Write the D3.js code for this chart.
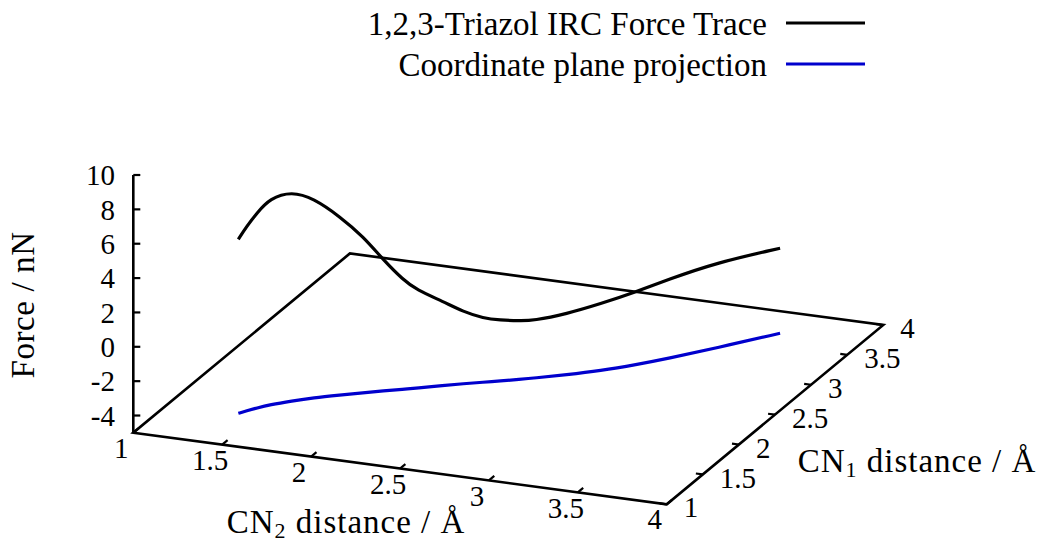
<!DOCTYPE html>
<html>
<head>
<meta charset="utf-8">
<script src="https://cdn.jsdelivr.net/npm/d3@7"></script>
<style>
html,body{margin:0;padding:0;background:#fff;}
svg text{font-family:'Liberation Serif','DejaVu Serif',serif;fill:#000;}
</style>
</head>
<body>
<svg id="chart" width="1039" height="542" font-family="'Liberation Serif','DejaVu Serif',serif"></svg>
<script>
// ---- data ----
const cn2 = [1.395,1.421,1.453,1.498,1.581,1.667,1.780,1.879,1.966,2.052,2.110,2.224,2.311,2.399,2.472,2.559,2.617,2.758,2.896,3.038,3.149,3.327,3.549];
const cn1 = [1.482,1.533,1.594,1.667,1.763,1.852,1.942,2.020,2.085,2.148,2.191,2.279,2.343,2.404,2.453,2.516,2.558,2.673,2.795,2.955,3.096,3.350,3.681];
const force = [5.13,5.73,6.34,7.02,7.19,6.61,5.38,4.09,2.62,1.36,0.71,-0.12,-0.81,-1.28,-1.45,-1.60,-1.65,-1.46,-1.12,-0.76,-0.42,-0.04,-0.05];
const cn2Ticks = [1,1.5,2,2.5,3,3.5,4];
const cn1Ticks = [1,1.5,2,2.5,3,3.5,4];
const forceTicks = [-4,-2,0,2,4,6,8,10];
const seriesNames = ["1,2,3-Triazol IRC Force Trace","Coordinate plane projection"];
const seriesColors = ["#000000","#0000cd"];

// ---- projection via scales ----
const origin = [133.3, 432.7];
const xPx = d3.scaleLinear().domain([1,4]).range([0, 533.4]);
const xPy = d3.scaleLinear().domain([1,4]).range([0, 71.6]);
const yPx = d3.scaleLinear().domain([1,4]).range([0, 216.6]);
const yPy = d3.scaleLinear().domain([1,4]).range([0, -179.3]);
const zPy = d3.scaleLinear().domain([-5,10]).range([0, -257.7]);
const zFloor = -5;
function proj(x,y,z){ return [origin[0]+xPx(x)+yPx(y), origin[1]+xPy(x)+yPy(y)+zPy(z)]; }

const svg = d3.select("#chart");
const g = svg.append("g");
const line = d3.line().curve(d3.curveBasis);

// floor
const corners = [proj(1,1,zFloor), proj(4,1,zFloor), proj(4,4,zFloor), proj(1,4,zFloor)];
g.append("path").attr("d", d3.line()(corners)+"Z")
  .attr("fill","none").attr("stroke","#000").attr("stroke-width",2.6).attr("stroke-linejoin","miter");
// z axis
g.append("line").attr("x1",proj(1,1,zFloor)[0]).attr("y1",proj(1,1,zFloor)[1])
  .attr("x2",proj(1,1,10)[0]).attr("y2",proj(1,1,10)[1])
  .attr("stroke","#000").attr("stroke-width",2.6);

const tickLen = 7;
const fs = 29;
// z ticks
forceTicks.forEach(t=>{
  const p = proj(1,1,t);
  g.append("line").attr("x1",p[0]).attr("y1",p[1]).attr("x2",p[0]+tickLen).attr("y2",p[1])
    .attr("stroke","#000").attr("stroke-width",2.2);
  g.append("text").attr("x",115).attr("y",p[1]).attr("dy","0.35em")
    .attr("text-anchor","end").attr("font-size",fs).text(String(t));
});
// cn2 ticks (front edge)
const eyLen = Math.hypot(yPx(4)-yPx(1), yPy(4)-yPy(1));
const eyU = [(yPx(4)-yPx(1))/eyLen, (yPy(4)-yPy(1))/eyLen];
cn2Ticks.forEach(t=>{
  const p = proj(t,1,zFloor);
  g.append("line").attr("x1",p[0]).attr("y1",p[1]).attr("x2",p[0]+eyU[0]*tickLen).attr("y2",p[1]+eyU[1]*tickLen)
    .attr("stroke","#000").attr("stroke-width",2.2);
  g.append("text").attr("x",p[0]-12).attr("y",p[1]+15).attr("dy","0.35em")
    .attr("text-anchor","middle").attr("font-size",fs).text(String(t));
});
// cn1 ticks (right edge)
const exLen = Math.hypot(xPx(4)-xPx(1), xPy(4)-xPy(1));
const exU = [(xPx(4)-xPx(1))/exLen, (xPy(4)-xPy(1))/exLen];
cn1Ticks.forEach(t=>{
  const p = proj(4,t,zFloor);
  g.append("line").attr("x1",p[0]).attr("y1",p[1]).attr("x2",p[0]-exU[0]*tickLen).attr("y2",p[1]-exU[1]*tickLen)
    .attr("stroke","#000").attr("stroke-width",2.2);
  g.append("text").attr("x",p[0]+17).attr("y",p[1]+3).attr("dy","0.35em")
    .attr("text-anchor","start").attr("font-size",fs).text(String(t));
});

// curves
const pts3d = cn2.map((x,i)=>proj(x, cn1[i], force[i]));
const ptsFloor = cn2.map((x,i)=>proj(x, cn1[i], zFloor));
g.append("path").attr("d", line(ptsFloor)).attr("fill","none")
  .attr("stroke",seriesColors[1]).attr("stroke-width",3.2).attr("stroke-linejoin","round").attr("stroke-linecap","butt");
g.append("path").attr("d", line(pts3d)).attr("fill","none")
  .attr("stroke",seriesColors[0]).attr("stroke-width",3.2).attr("stroke-linejoin","round").attr("stroke-linecap","butt");

// axis labels
const lfs = 33;
g.append("text").attr("transform","translate(34,305) rotate(-90)")
  .attr("text-anchor","middle").attr("font-size",lfs).attr("letter-spacing",0.6).text("Force / nN");
const l2 = g.append("text").attr("x",346).attr("y",533).attr("text-anchor","middle").attr("font-size",lfs).attr("letter-spacing",1);
l2.append("tspan").text("CN");
l2.append("tspan").attr("font-size",22).attr("dy",5).text("2");
l2.append("tspan").attr("dy",-5).text(" distance / Å");
const l1 = g.append("text").attr("x",917).attr("y",471.7).attr("text-anchor","middle").attr("font-size",lfs).attr("letter-spacing",1);
l1.append("tspan").text("CN");
l1.append("tspan").attr("font-size",22).attr("dy",5).text("1");
l1.append("tspan").attr("dy",-5).text(" distance / Å");

// legend
const legY = [23, 64];
seriesNames.forEach((name,i)=>{
  g.append("text").attr("x",767).attr("y",legY[i]).attr("dy","0.35em")
    .attr("text-anchor","end").attr("font-size",lfs).text(name);
  g.append("line").attr("x1",786).attr("x2",865).attr("y1",legY[i]).attr("y2",legY[i])
    .attr("stroke",seriesColors[i]).attr("stroke-width",3.2);
});
</script>
</body>
</html>
